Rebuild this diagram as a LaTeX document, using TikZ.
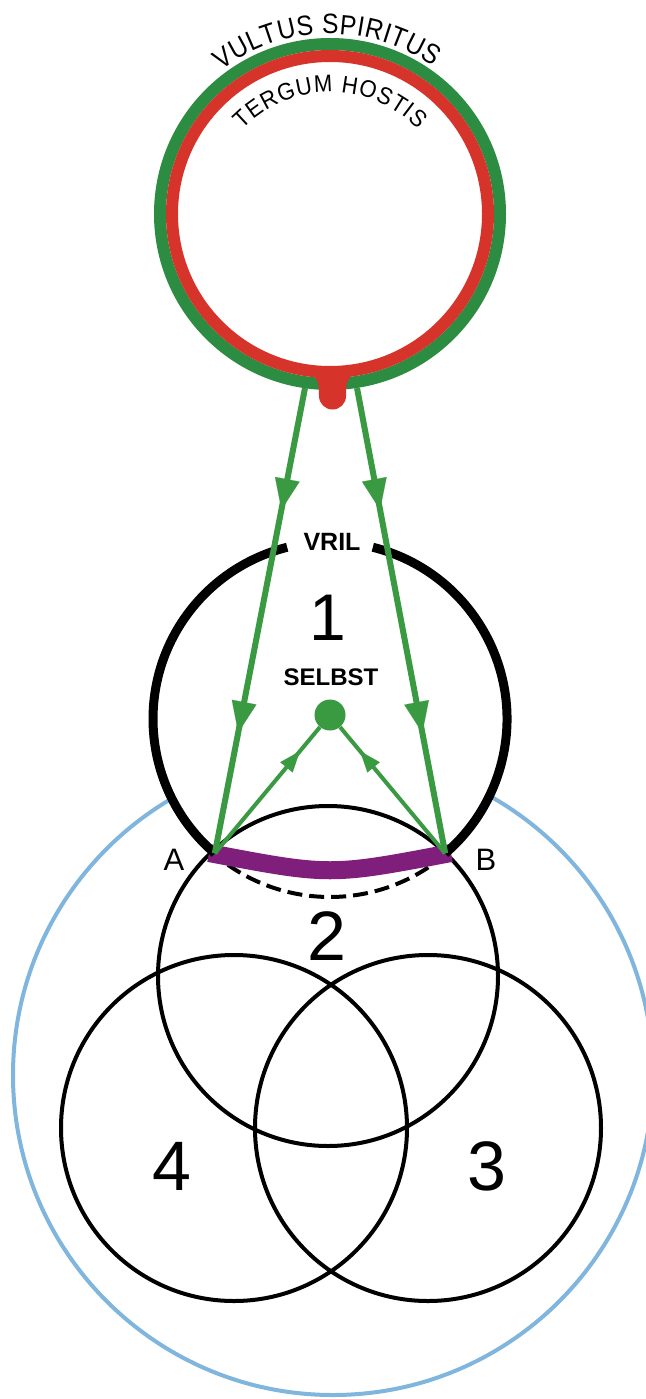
\documentclass[tikz,border=0pt]{standalone}
\usepackage{fontspec}
\setmainfont{Liberation Sans}
\newfontfamily\narrowsansA[FakeStretch=0.88]{Liberation Sans}
\newfontfamily\narrowsansB[FakeStretch=0.92]{Liberation Sans}
\newcommand\outerringfont{\narrowsansA\fontsize{28}{34}\selectfont}
\newcommand\innerringfont{\narrowsansB\fontsize{24}{30}\selectfont}
\usetikzlibrary{decorations.text,decorations.markings,arrows.meta}
\definecolor{ringgreen}{RGB}{44,140,66}
\definecolor{ringred}{RGB}{214,52,42}
\definecolor{lgreen}{RGB}{58,154,66}
\definecolor{skyblue}{RGB}{128,182,222}
\definecolor{bandpurple}{RGB}{128,30,124}
\begin{document}
\begin{tikzpicture}[x=1pt,y=-1pt,line join=round,
  thincirc/.style={draw=black,line width=4pt},
  bigarrow/.style={draw=lgreen,line width=6pt,postaction={decorate},
    decoration={markings,
      mark=at position 124pt with {\arrow[lgreen]{Triangle[length=31pt,width=25pt,line width=0.1pt]}},
      mark=at position 351pt with {\arrow[lgreen]{Triangle[length=31pt,width=25pt,line width=0.1pt]}}}},
  smallarrow/.style={draw=lgreen,line width=4pt,postaction={decorate},
    decoration={markings,
      mark=at position 133pt with {\arrow[lgreen]{Triangle[length=21pt,width=16pt,line width=0.1pt]}}}},
  numlabel/.style={anchor=base,inner sep=0pt,font=\fontsize{70}{70}\selectfont},
  boldlabel/.style={anchor=base,inner sep=0pt,font=\bfseries\fontsize{25}{25}\selectfont},
  ablabel/.style={anchor=base,inner sep=0pt,font=\fontsize{31}{31}\selectfont}]
\useasboundingbox (0,0) rectangle (645,1399);
\fill[white] (0,0) rectangle (645,1399);

% centres
\coordinate (ring) at (330,214);
\coordinate (c1) at (330,719);
\coordinate (c2) at (328,976);
\coordinate (c3) at (428,1128);
\coordinate (c4) at (234,1128);
\coordinate (cb) at (333,1075);
\coordinate (A) at (214.8,853.4);
\coordinate (B) at (445.2,853.4);
\coordinate (g1) at (305,388);
\coordinate (g2) at (357,388);

% blue outer circle
\draw[skyblue,line width=4pt] (cb) circle[radius=320];
\fill[white] (c1) circle[radius=177];

% circles 2, 3, 4
\draw[thincirc] (c2) circle[radius=170];
\draw[thincirc] (c3) circle[radius=173];
\draw[thincirc] (c4) circle[radius=173];

% circle 1 lower dashed arc
\draw[line width=4pt,dash pattern=on 15pt off 7pt] (c1) ++(49.4:178) arc[start angle=49.4,end angle=130.6,radius=178];
% purple band
\draw[bandpurple,line width=18pt] (209,853) .. controls (330,876) .. (451,853);
% circle 1 thick arcs with gap at top
\draw[line width=9pt] (c1) ++(130.6:177) arc[start angle=130.6,end angle=256,radius=177];
\draw[line width=9pt] (c1) ++(284:177) arc[start angle=284,end angle=409.4,radius=177];

% green connectors
\node[circle,fill=lgreen,minimum size=31pt,inner sep=0pt] (dot) at (330,715) {};
\draw[bigarrow] (g1) -- (A);
\draw[bigarrow] (g2) -- (B);
\draw[smallarrow] (A) -- (dot);
\draw[smallarrow] (B) -- (dot);

% top ring
\draw[ringgreen,line width=12pt] (ring) circle[radius=170];
\draw[ringred,line width=12pt] (ring) circle[radius=158];
\fill[ringred] (311,374) .. controls (318,378) and (319,384) .. (319,396)
  arc[start angle=180,end angle=0,radius=13.5]
  .. controls (346,384) and (347,378) .. (354,374) -- cycle;

% ring texts
\path[decorate,decoration={text along path,text align={fit to path},
  text={|\outerringfont|VULTUS SPIRITUS}}]
  (ring) ++(233:180) arc[start angle=233,end angle=305,radius=180];
\path[decorate,decoration={text along path,text align={fit to path},
  text={|\innerringfont|TERGUM HOSTIS}}]
  (ring) ++(224:122) arc[start angle=224,end angle=316,radius=122];

% labels
\node[boldlabel] (vril) at (332,550) {VRIL};
\node[boldlabel,font=\bfseries\fontsize{24}{24}\selectfont] (selbst) at (331,685) {SELBST};
\node[numlabel,font=\fontsize{66}{66}\selectfont] (n1) at (328,640) {1};
\node[numlabel] (n2) at (327,960) {2};
\node[numlabel] (n3) at (487,1190) {3};
\node[numlabel] (n4) at (172,1190) {4};
\node[ablabel] (la) at (174,870) {A};
\node[ablabel] (lb) at (486,870) {B};
\end{tikzpicture}
\end{document}
